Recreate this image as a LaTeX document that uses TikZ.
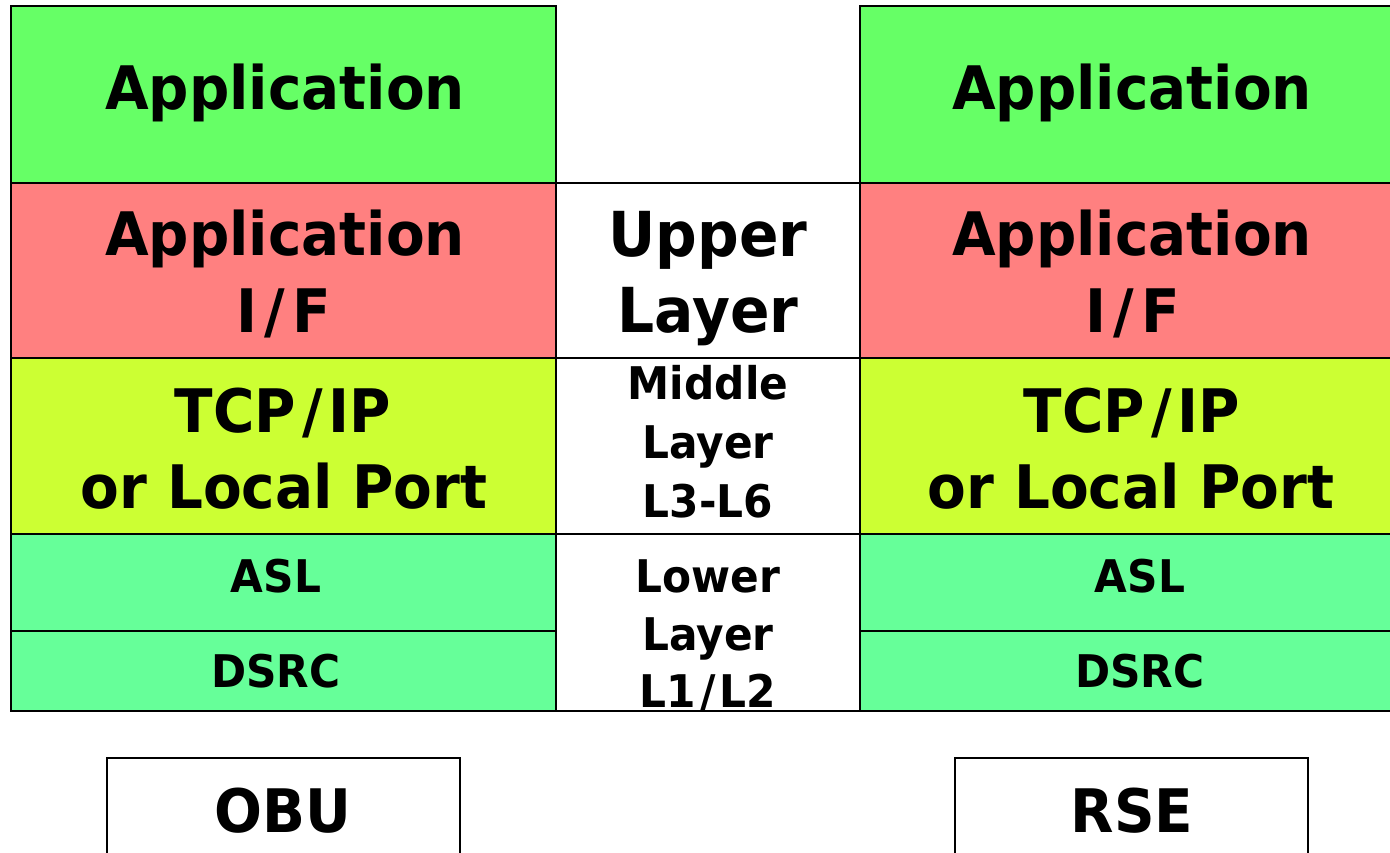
\documentclass[tikz,border=0pt]{standalone}
\usepackage{fontspec}
\newfontfamily\lblfont[FakeStretch=0.94]{DejaVu Sans}
\definecolor{appgreen}{HTML}{66FF66}
\definecolor{ifred}{HTML}{FF8080}
\definecolor{tcpyellow}{HTML}{CCFF33}
\definecolor{mint}{HTML}{66FF99}
\newcommand{\slsh}[1]{\kern#1/\kern#1}
\tikzset{
  layerbox/.style={draw=black, line width=1.8pt, inner sep=0pt},
  big/.style={anchor=base, inner sep=0pt, font=\lblfont\bfseries\fontsize{60}{72}\selectfont},
  upper/.style={anchor=base, inner sep=0pt, font=\lblfont\bfseries\fontsize{62}{72}\selectfont},
  small/.style={anchor=base, inner sep=0pt, font=\lblfont\bfseries\fontsize{45}{54}\selectfont},
}
\begin{document}
\begin{tikzpicture}[x=1pt,y=-1pt]
\useasboundingbox (0,0) rectangle (1390,853);
\clip (0,0) rectangle (1390,853);
\fill[white] (0,0) rectangle (1390,853);
% left column
\draw[layerbox, fill=appgreen] (11,6) rectangle (556,183);
\draw[layerbox, fill=ifred] (11,183) rectangle (556,358);
\draw[layerbox, fill=tcpyellow] (11,358) rectangle (556,534);
\draw[layerbox, fill=mint] (11,534) rectangle (556,631);
\draw[layerbox, fill=mint] (11,631) rectangle (556,711);
% middle column
\draw[layerbox, fill=white] (556,183) rectangle (860,358);
\draw[layerbox, fill=white] (556,358) rectangle (860,534);
\draw[layerbox, fill=white] (556,534) rectangle (860,711);
% right column
\draw[layerbox, fill=appgreen] (860,6) rectangle (1400,183);
\draw[layerbox, fill=ifred] (860,183) rectangle (1400,358);
\draw[layerbox, fill=tcpyellow] (860,358) rectangle (1400,534);
\draw[layerbox, fill=mint] (860,534) rectangle (1400,631);
\draw[layerbox, fill=mint] (860,631) rectangle (1400,711);
% bottom boxes
\draw[layerbox] (107,758) rectangle (460,880);
\draw[layerbox] (955,758) rectangle (1308,880);
% left texts
\node[big] (lapp) at (285,110) {Application};
\node[big] (lif1) at (285,255) {Application};
\node[big] (lif2) at (284,332) {I\slsh{7pt}F};
\node[big] (ltcp1) at (283,432) {TCP\slsh{6pt}IP};
\node[big] (ltcp2) at (284,508) {or Local Port};
\node[small] (lasl) at (276,592) {ASL};
\node[small] (ldsrc) at (276,687) {DSRC};
\node[big] (obu) at (283,832) {OBU};
% middle texts
\node[upper] (up1) at (708,257) {Upper};
\node[upper] (up2) at (708,332) {Layer};
\node[small] (mid1) at (708,399) {Middle};
\node[small] (mid2) at (708,458) {Layer};
\node[small] (mid3) at (708,517) {L3-L6};
\node[small] (low1) at (708,592) {Lower};
\node[small] (low2) at (708,650) {Layer};
\node[small] (low3) at (708,707) {L1\slsh{4pt}L2};
% right texts
\node[big] (rapp) at (1132,110) {Application};
\node[big] (rif1) at (1132,255) {Application};
\node[big] (rif2) at (1133,332) {I\slsh{7pt}F};
\node[big] (rtcp1) at (1132,432) {TCP\slsh{6pt}IP};
\node[big] (rtcp2) at (1131,508) {or Local Port};
\node[small] (rasl) at (1140,592) {ASL};
\node[small] (rdsrc) at (1140,687) {DSRC};
\node[big] (rse) at (1132,832) {RSE};
\end{tikzpicture}
\end{document}
